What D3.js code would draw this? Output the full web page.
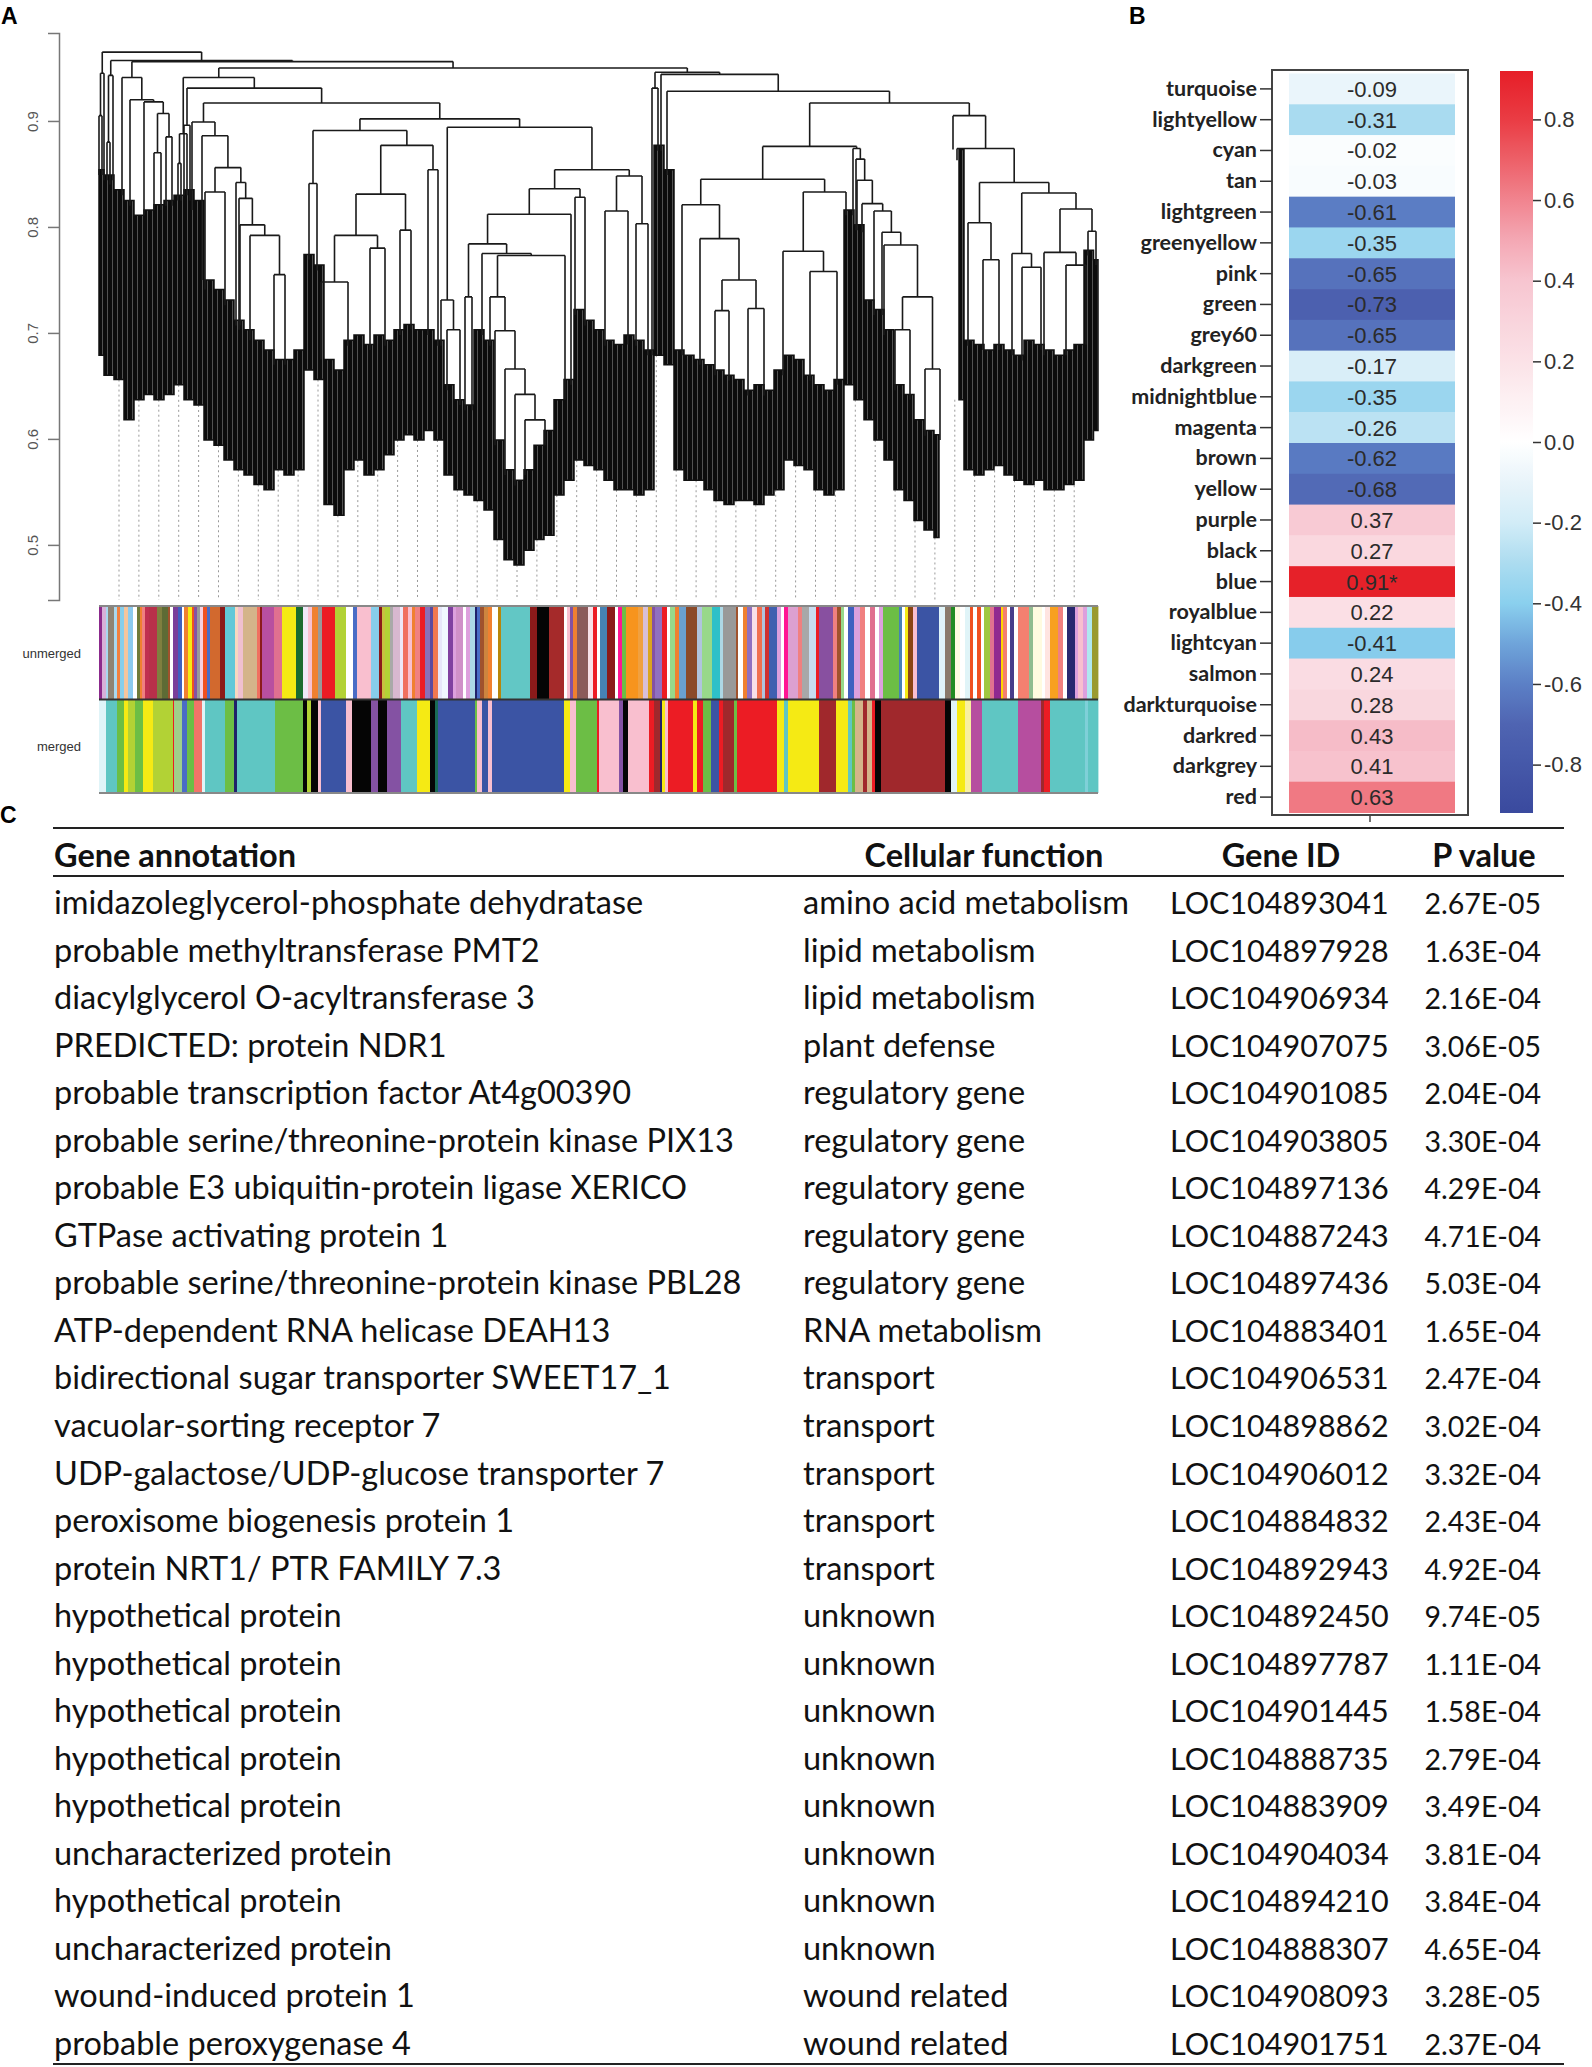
<!DOCTYPE html>
<html>
<head>
<meta charset="utf-8">
<script src="https://cdn.jsdelivr.net/npm/d3@7"></script>
<style>
  body { margin: 0; background: #fff; }
</style>
</head>
<body>
<script>
// ---------------- data ----------------

// panel A: dendrogram (dissimilarity heights), leaves given by leaf index 0..999
var yTicks = [0.5, 0.6, 0.7, 0.8, 0.9];

// sub trees, written as (left,right)@height and leaf@height
var treeDeep = "((796@0.651,811@0.642)@0.703,(826@0.618,841@0.604)@0.666)@0.734";
var treeW2 = "(754@0.816,(757@0.810,(758@0.802,(763@0.795,(775@0.731,(783@0.722,(785@0.703," + treeDeep + ")@0.783)@0.795)@0.815)@0.822)@0.844)@0.864)@0.874";
var treeX1 = "(583@0.684,(601@0.679,((616@0.670,630@0.660)@0.721,(649@0.651,665@0.646)@0.723)@0.750)@0.789)@0.821";
var treeX2 = "((684@0.665,(711@0.675,738@0.656)@0.758)@0.777,747@0.816)@0.833";
var treeZ2 = "((913@0.684,(923@0.679,942@0.689)@0.762)@0.775,((945@0.684,(967@0.684,987@0.689)@0.764)@0.776,(989@0.778,997@0.769)@0.796)@0.817)@0.832";
var treeZ = "((869@0.693,(884@0.689,900@0.689)@0.769)@0.804," + treeZ2 + ")@0.842";
var treeV2 = "(854@0.873,(858@0.863," + treeZ + ")@0.874)@0.905";
var treeS = "((553@0.873,559@0.877)@0.931,(562@0.877,(568@0.854,(((" + treeX1 + "," + treeX2 + ")@0.845," + treeW2 + ")@0.876," + treeV2 + ")@0.917)@0.928)@0.944)@0.946";
var treeVal = "(391@0.693,(396@0.599,(406@0.571,(416@0.561,(426@0.571,446@0.594)@0.618)@0.642)@0.666)@0.702)@0.734";
var treeM = "((((366@0.637,373@0.632)@0.734,(383@0.703,(" + treeVal + ",466@0.637)@0.773)@0.775)@0.784,472@0.656)@0.812,(476@0.722,486@0.712)@0.828)@0.836";
var treeM2 = "((506@0.703,529@0.689)@0.815,(537@0.698,549@0.684)@0.803)@0.848";
var treeL = "((342@0.693,(348@0.651,361@0.637)@0.703)@0.731,(" + treeM + "," + treeM2 + ")@0.854)@0.894";
var treeK = "((222@0.675,249@0.693)@0.748,(271@0.689,286@0.698)@0.780)@0.792";
var treeH = "((210@0.774,218@0.774)@0.841,((" + treeK + ",(301@0.703,312@0.708)@0.797)@0.831,(329@0.703,339@0.693)@0.854)@0.877)@0.891";
var treeF1 = "(93@0.816,(103@0.750,((106@0.741,126@0.731)@0.833,(137@0.712,(140@0.703,(141@0.712,(151@0.693,(175@0.675,186@0.675)@0.755)@0.792)@0.802)@0.827)@0.842)@0.856)@0.886)@0.899";
var treeD = "(((79@0.825,82@0.830)@0.860,88@0.844)@0.888,((85@0.835,91@0.825)@0.896,(" + treeF1 + ",(" + treeH + "," + treeL + ")@0.902)@0.917)@0.931)@0.941";
var treeC1 = "(23@0.873,(31@0.854,(45@0.825,((55@0.820,62@0.835)@0.870,(67@0.830,73@0.849)@0.885)@0.907)@0.918)@0.920)@0.941";
var dendroTree = "(((0@0.873,3@0.860)@0.905,5@0.890)@0.945,(((8@0.854,11@0.840)@0.880,14@0.901)@0.943,(" + treeC1 + ",(" + treeD + "," + treeS + ")@0.950)@0.956)@0.957)@0.965";

// dense lower part of the dendrogram, every 10 leaves (top and bottom heights)
var fuzzTop = [0.854,0.849,0.835,0.825,0.811,0.816,0.821,0.825,0.830,0.835,
  0.825,0.750,0.741,0.731,0.712,0.703,0.693,0.684,0.675,0.675,
  0.684,0.774,0.764,0.675,0.665,0.693,0.698,0.689,0.698,0.693,
  0.703,0.708,0.703,0.703,0.693,0.651,0.637,0.632,0.703,0.693,
  0.599,0.571,0.561,0.571,0.594,0.608,0.637,0.656,0.722,0.712,
  0.703,0.693,0.689,0.698,0.693,0.684,0.877,0.854,0.684,0.679,
  0.675,0.670,0.665,0.660,0.656,0.646,0.651,0.646,0.665,0.679,
  0.675,0.660,0.651,0.646,0.656,0.816,0.802,0.731,0.722,0.703,
  0.651,0.642,0.618,0.608,0.604,null,0.873,0.693,0.689,0.684,
  0.689,0.684,0.679,0.693,0.689,0.684,0.679,0.684,0.689,0.778,
  0.769];
var fuzzBottom = [0.679,0.660,0.656,0.618,0.637,0.642,0.637,0.642,0.651,0.637,
  0.632,0.599,0.594,0.580,0.571,0.566,0.557,0.552,0.571,0.566,
  0.571,0.665,0.656,0.538,0.528,0.571,0.580,0.566,0.571,0.585,
  0.599,0.604,0.599,0.608,0.599,0.566,0.552,0.547,0.542,0.533,
  0.505,0.486,0.481,0.495,0.505,0.509,0.547,0.561,0.580,0.575,
  0.571,0.561,0.552,0.552,0.547,0.552,0.679,0.670,0.571,0.561,
  0.561,0.552,0.542,0.538,0.542,0.542,0.538,0.547,0.552,0.580,
  0.575,0.571,0.552,0.547,0.552,0.651,0.637,0.618,0.599,0.580,
  0.552,0.542,0.523,0.514,0.507,null,0.637,0.571,0.566,0.571,
  0.575,0.566,0.561,0.557,0.561,0.552,0.552,0.557,0.561,0.599,
  0.608];

// module colour bands: [first leaf, colour]
var unmergedBand = [[0,"#8b2a8c"],[3,"#d8b0d8"],[7,"#a8d8f0"],[9,"#8f8373"],[15,"#a8d8f0"],[18,"#f08040"],
  [21,"#87ceeb"],[25,"#f6c59d"],[29,"#8ccbef"],[34,"#ffffff"],[38,"#6e7b3a"],[41,"#f08030"],[43,"#f08080"],
  [46,"#c03050"],[50,"#b8304a"],[58,"#7f7f3f"],[63,"#5d6b35"],[69,"#a0522d"],[71,"#ffffff"],[74,"#7a3f9a"],
  [79,"#4060c0"],[83,"#ffffff"],[85,"#f08030"],[89,"#f5ea14"],[93,"#f05020"],[95,"#8452a3"],[98,"#999999"],
  [101,"#f8d0e0"],[104,"#f05020"],[108,"#4a6cc6"],[111,"#d2692e"],[121,"#8b1a1a"],[126,"#62c8d8"],
  [136,"#f8d8c0"],[139,"#f0c0d0"],[144,"#d4b48a"],[158,"#f07060"],[161,"#8b1a1a"],[163,"#b84fa0"],
  [175,"#e07090"],[183,"#f5ea14"],[197,"#1a6b30"],[204,"#eee8f8"],[209,"#f8c0d0"],[213,"#f08030"],
  [219,"#999999"],[223,"#ec1c24"],[236,"#b2d235"],[247,"#ffffff"],[254,"#4a6cc6"],[258,"#f9bfcf"],
  [272,"#87ceeb"],[280,"#8b1a1a"],[283,"#c8c040"],[286,"#b2d235"],[291,"#a9a9a9"],[294,"#d8b8d0"],
  [301,"#eee8f8"],[304,"#f07060"],[309,"#f9bfcf"],[313,"#f08030"],[316,"#f08080"],[321,"#ec1c24"],
  [326,"#8a70b8"],[331,"#5a4aa0"],[334,"#f07850"],[339,"#e6e6fa"],[343,"#f0f8ff"],[349,"#8040a0"],
  [354,"#dda0dd"],[357,"#d090c8"],[364,"#ffffff"],[367,"#dda0dd"],[371,"#add8e6"],[376,"#20206a"],
  [378,"#4a6cc6"],[381,"#a0522d"],[385,"#cd853f"],[389,"#f08030"],[393,"#ffffff"],[399,"#b8860b"],
  [402,"#62c7c5"],[431,"#8b1a1a"],[438,"#050505"],[450,"#a52a2a"],[465,"#ffffff"],[468,"#f9bfcf"],
  [471,"#8452a3"],[474,"#f08030"],[478,"#8b5a5a"],[489,"#f8e0e8"],[494,"#ec1c24"],[498,"#ffffff"],
  [501,"#4682b4"],[508,"#8b1a1a"],[516,"#ffffff"],[519,"#ff1493"],[523,"#6cbe45"],[527,"#f7941d"],
  [539,"#f0a040"],[544,"#d8bfd8"],[549,"#daa520"],[553,"#8452a3"],[556,"#9070c0"],[563,"#ec1c24"],
  [568,"#ffffff"],[571,"#98d88a"],[576,"#f08030"],[580,"#6aa0d0"],[587,"#8b4a2a"],[598,"#b0c4de"],
  [603,"#98d88a"],[613,"#2ec0c8"],[621,"#add8e6"],[624,"#999999"],[637,"#a0522d"],[639,"#ffffff"],
  [644,"#f08030"],[648,"#9070c0"],[653,"#f8e0e8"],[658,"#f07050"],[663,"#b0c4de"],[666,"#d03030"],
  [670,"#4060b0"],[678,"#dda0dd"],[682,"#ffffff"],[685,"#ff1493"],[689,"#dca0d0"],[699,"#f08080"],
  [703,"#a8a8a8"],[710,"#c8dcf0"],[717,"#ec1c24"],[720,"#8850a0"],[734,"#f08080"],[738,"#a0522d"],
  [742,"#98d88a"],[745,"#ffffff"],[749,"#4060c0"],[755,"#dda0dd"],[761,"#f08080"],[766,"#ffffff"],
  [771,"#e07090"],[776,"#ffffff"],[780,"#dda0dd"],[784,"#6cbe45"],[800,"#4682b4"],[803,"#ffffff"],
  [806,"#f5ea14"],[809,"#8b4513"],[814,"#f9bfcf"],[818,"#3b54a4"],[840,"#e0f4f8"],[846,"#8a7a6a"],
  [852,"#228b22"],[856,"#fffbe0"],[861,"#ffffff"],[866,"#e0f4f8"],[871,"#f05020"],[874,"#ffffff"],
  [878,"#f05020"],[882,"#ffffff"],[885,"#a0c840"],[891,"#e07090"],[895,"#902890"],[902,"#ffd700"],
  [904,"#f48070"],[908,"#ffffff"],[911,"#483d8b"],[915,"#ffffff"],[919,"#f48070"],[930,"#8fbc8f"],
  [934,"#fffbe0"],[943,"#ffffff"],[946,"#ffe4e1"],[951,"#f8a020"],[959,"#f08080"],[964,"#ffffff"],
  [968,"#282870"],[976,"#dda0dd"],[979,"#f9bfcf"],[984,"#dda0dd"],[988,"#b0e8f0"],[993,"#9a9a30"]];

var mergedBand = [[0,"#e0f4f8"],[7,"#5fc6c3"],[18,"#6cbe45"],[25,"#f5ea14"],[29,"#b2d235"],[36,"#6cbe45"],
  [44,"#f5ea14"],[54,"#b2d235"],[74,"#ec1c24"],[75,"#9fd08a"],[83,"#4a6cc6"],[88,"#6cbe45"],[95,"#f37468"],
  [103,"#e0f4f8"],[106,"#5fc6c3"],[126,"#6cbe45"],[135,"#20206a"],[138,"#5fc6c3"],[176,"#6cbe45"],
  [204,"#050505"],[208,"#b2d235"],[212,"#050505"],[219,"#f9bfcf"],[222,"#3b54a4"],[247,"#f9bfcf"],
  [253,"#050505"],[272,"#8452a3"],[279,"#050505"],[288,"#8452a3"],[302,"#5fc6c3"],[318,"#f5ea14"],
  [331,"#050505"],[336,"#1a6b55"],[339,"#3b54a4"],[376,"#6cbe45"],[378,"#f9bfcf"],[383,"#3b54a4"],
  [389,"#f9bfcf"],[393,"#3b54a4"],[465,"#f5ea14"],[471,"#f9bfcf"],[477,"#6cbe45"],[498,"#ec1c24"],
  [500,"#f9bfcf"],[520,"#8452a3"],[524,"#050505"],[529,"#f9bfcf"],[550,"#ec1c24"],[555,"#a0282c"],
  [561,"#20206a"],[563,"#f5ea14"],[566,"#f9bfcf"],[569,"#ec1c24"],[594,"#f5ea14"],[598,"#ec1c24"],
  [604,"#6cbe45"],[612,"#3b54a4"],[620,"#ec1c24"],[624,"#a0282c"],[635,"#6cbe45"],[638,"#ec1c24"],
  [678,"#f5ea14"],[685,"#5fc6c3"],[689,"#f5ea14"],[720,"#a0282c"],[737,"#f5ea14"],[749,"#5fc6c3"],
  [753,"#6cbe45"],[756,"#d4b48a"],[764,"#a0282c"],[768,"#d4b48a"],[773,"#ec1c24"],[776,"#050505"],
  [782,"#a0282c"],[846,"#050505"],[852,"#e0f4f8"],[858,"#f5ea14"],[866,"#f8f0a0"],[872,"#b64e9f"],
  [883,"#5fc6c3"],[919,"#b64e9f"],[942,"#a0282c"],[945,"#ec1c24"],[951,"#5fc6c3"],[986,"#7fd0d8"],
  [989,"#5fc6c3"]];
var bandNames = ["unmerged", "merged"];

// panel B: module - trait correlations
var modules = ["turquoise","lightyellow","cyan","tan","lightgreen","greenyellow","pink","green",
  "grey60","darkgreen","midnightblue","magenta","brown","yellow","purple","black","blue",
  "royalblue","lightcyan","salmon","darkturquoise","darkred","darkgrey","red"];
var correlations = [-0.09,-0.31,-0.02,-0.03,-0.61,-0.35,-0.65,-0.73,-0.65,-0.17,-0.35,-0.26,
  -0.62,-0.68,0.37,0.27,0.91,0.22,-0.41,0.24,0.28,0.43,0.41,0.63];
var cellText = ["-0.09","-0.31","-0.02","-0.03","-0.61","-0.35","-0.65","-0.73","-0.65","-0.17",
  "-0.35","-0.26","-0.62","-0.68","0.37","0.27","0.91*","0.22","-0.41","0.24","0.28","0.43","0.41","0.63"];
var colorStops = [-0.92,-0.7,-0.6,-0.5,-0.4,-0.3,-0.2,-0.1,0,0.2,0.3,0.4,0.5,0.6,0.7,0.8,0.92];
var stopColors = ["#3a4a9e","#4f64b2","#5c80c6","#6fa4da","#8ad0ee","#acdcf0","#d2ecf7","#e8f4fa","#ffffff",
  "#fbe2e7","#f9d4dc","#f7c5d0","#f4a8b4","#f1848f","#ed6068","#ea3c44","#e61e27"];
var barTicks = [-0.8,-0.6,-0.4,-0.2,0,0.2,0.4,0.6,0.8];

// panel C: table
var tableHeaders = ["Gene annotation", "Cellular function", "Gene ID", "P value"];
var geneAnnotation = ["imidazoleglycerol-phosphate dehydratase","probable methyltransferase PMT2",
  "diacylglycerol O-acyltransferase 3","PREDICTED: protein NDR1","probable transcription factor At4g00390",
  "probable serine/threonine-protein kinase PIX13","probable E3 ubiquitin-protein ligase XERICO",
  "GTPase activating protein 1","probable serine/threonine-protein kinase PBL28",
  "ATP-dependent RNA helicase DEAH13","bidirectional sugar transporter SWEET17_1",
  "vacuolar-sorting receptor 7","UDP-galactose/UDP-glucose transporter 7",
  "peroxisome biogenesis protein 1","protein NRT1/ PTR FAMILY 7.3","hypothetical protein",
  "hypothetical protein","hypothetical protein","hypothetical protein","hypothetical protein",
  "uncharacterized protein","hypothetical protein","uncharacterized protein",
  "wound-induced protein 1","probable peroxygenase 4"];
var cellularFunction = ["amino acid metabolism","lipid metabolism","lipid metabolism","plant defense",
  "regulatory gene","regulatory gene","regulatory gene","regulatory gene","regulatory gene",
  "RNA metabolism","transport","transport","transport","transport","transport",
  "unknown","unknown","unknown","unknown","unknown","unknown","unknown","unknown",
  "wound related","wound related"];
var geneIds = ["LOC104893041","LOC104897928","LOC104906934","LOC104907075","LOC104901085",
  "LOC104903805","LOC104897136","LOC104887243","LOC104897436","LOC104883401","LOC104906531",
  "LOC104898862","LOC104906012","LOC104884832","LOC104892943","LOC104892450","LOC104897787",
  "LOC104901445","LOC104888735","LOC104883909","LOC104904034","LOC104894210","LOC104888307",
  "LOC104908093","LOC104901751"];
var pValues = ["2.67E-05","1.63E-04","2.16E-04","3.06E-05","2.04E-04","3.30E-04","4.29E-04",
  "4.71E-04","5.03E-04","1.65E-04","2.47E-04","3.02E-04","3.32E-04","2.43E-04","4.92E-04",
  "9.74E-05","1.11E-04","1.58E-04","2.79E-04","3.49E-04","3.81E-04","3.84E-04","4.65E-04",
  "3.28E-05","2.37E-04"];

// ---------------- drawing ----------------

var svg = d3.select("body").append("svg")
    .attr("width", 1592)
    .attr("height", 2067);

var defs = svg.append("defs");

drawDendrogram();
drawBands();
drawHeatmap();
drawTable();

// panel letters
svg.selectAll(".panel")
    .data([["A", 1, 24], ["B", 1129, 24], ["C", 0, 823]])
    .enter().append("text")
    .attr("x", function(d) { return d[1]; })
    .attr("y", function(d) { return d[2]; })
    .text(function(d) { return d[0]; })
    .style("font-family", "Liberation Sans, Arial, sans-serif")
    .style("font-weight", "bold")
    .style("font-size", "23px");

// read the tree string into nested objects
function parseTree(s) {
    var pos = 0;
    function readNumber() {
        var m = /^[0-9.]+/.exec(s.slice(pos));
        pos += m[0].length;
        return +m[0];
    }
    function readNode() {
        var n;
        if (s[pos] === "(") {
            pos++;
            var kids = [readNode()];
            while (s[pos] === ",") {
                pos++;
                kids.push(readNode());
            }
            pos++;
            n = {children: kids};
        } else {
            n = {leaf: readNumber()};
        }
        pos++; // skip "@"
        n.h = readNumber();
        return n;
    }
    return readNode();
}

// nearest fuzz value for a leaf position
function fuzzAt(arr, i) {
    return arr[Math.max(0, Math.min(arr.length - 1, Math.round(i / 10)))];
}

function drawDendrogram() {

    var x = d3.scaleLinear().domain([0, 999]).range([99, 1098]);
    var y = d3.scaleLinear().domain([0.448, 0.983]).range([600, 33]);

    // y axis with rotated labels
    var axis = svg.append("g")
        .attr("transform", "translate(59,0)")
        .call(d3.axisLeft(y).tickValues(yTicks).tickSize(11).tickFormat(d3.format(".1f")));
    axis.select(".domain").attr("stroke", "#777").attr("stroke-width", 1.5);
    axis.selectAll(".tick line").attr("stroke", "#777").attr("stroke-width", 1.5);
    axis.selectAll(".tick text")
        .attr("transform", "rotate(-90)")
        .attr("x", 0)
        .attr("y", -21)
        .attr("dy", 0)
        .attr("text-anchor", "middle")
        .attr("fill", "#555")
        .style("font-family", "Liberation Sans, Arial, sans-serif")
        .style("font-size", "15px");

    // guide lines under the dendrogram
    var guides = d3.range(49).map(function(k) { return 20 + k * 19.9; });
    svg.append("g").selectAll("line")
        .data(guides)
        .enter().append("line")
        .attr("x1", function(d) { return x(d); })
        .attr("x2", function(d) { return x(d); })
        .attr("y1", function(d) {
            var b = fuzzAt(fuzzBottom, d);
            return y(b == null ? 0.6 : b);
        })
        .attr("y2", 600)
        .attr("stroke", "#999")
        .attr("stroke-width", 1)
        .attr("stroke-dasharray", "2,3");

    // hatch so the dense part reads as many packed branches
    var hatch = defs.append("pattern")
        .attr("id", "hatch")
        .attr("patternUnits", "userSpaceOnUse")
        .attr("width", 5).attr("height", 40);
    hatch.append("rect").attr("width", 5).attr("height", 40).attr("fill", "#0c0c0c");
    hatch.append("rect").attr("x", 2).attr("width", 0.9).attr("height", 40).attr("fill", "#5a5a5a");

    // dense lower part
    var fuzz = fuzzTop.map(function(t, i) { return {i: i * 10, top: t, bottom: fuzzBottom[i]}; });
    var area = d3.area()
        .defined(function(d) { return d.top != null; })
        .x(function(d) { return x(Math.min(d.i, 999)); })
        .y0(function(d) { return y(d.bottom); })
        .y1(function(d) { return y(d.top); })
        .curve(d3.curveStep);
    svg.append("path")
        .datum(fuzz)
        .attr("d", area)
        .attr("fill", "url(#hatch)")
        .attr("stroke", "#111")
        .attr("stroke-width", 1.5);

    // upper tree
    var root = d3.hierarchy(parseTree(dendroTree));
    root.eachAfter(function(d) {
        if (d.children) {
            d.px = d3.mean(d.children, function(c) { return c.px; });
            d.end = d.data.h;
        } else {
            d.px = d.data.leaf;
            var t = fuzzAt(fuzzTop, d.px);
            d.end = t == null ? d.data.h : Math.min(d.data.h, t - 0.005);
        }
    });

    svg.append("g").selectAll("path")
        .data(root.descendants().filter(function(d) { return d.children; }))
        .enter().append("path")
        .attr("d", function(d) {
            var p = d3.path();
            var xs = d.children.map(function(c) { return c.px; });
            p.moveTo(x(d3.min(xs)), y(d.data.h));
            p.lineTo(x(d3.max(xs)), y(d.data.h));
            d.children.forEach(function(c) {
                p.moveTo(x(c.px), y(d.data.h));
                p.lineTo(x(c.px), y(c.end));
            });
            return p.toString();
        })
        .attr("fill", "none")
        .attr("stroke", "#1a1a1a")
        .attr("stroke-width", 1.6);
}

function drawBands() {

    var x = d3.scaleLinear().domain([0, 999]).range([99, 1098]);
    var rows = d3.scaleBand().domain(bandNames).range([606, 793]);
    var bands = {unmerged: unmergedBand, merged: mergedBand};

    bandNames.forEach(function(name) {
        var segs = bands[name];
        svg.append("g").selectAll("rect")
            .data(segs)
            .enter().append("rect")
            .attr("x", function(d) { return x(d[0]); })
            .attr("width", function(d, i) {
                var end = i < segs.length - 1 ? segs[i + 1][0] : 999;
                return x(end) - x(d[0]) + 0.4;
            })
            .attr("y", rows(name))
            .attr("height", rows.bandwidth())
            .attr("fill", function(d) { return d[1]; });

        svg.append("text")
            .attr("x", 81)
            .attr("y", rows(name) + rows.bandwidth() / 2 + 5)
            .attr("text-anchor", "end")
            .text(name)
            .attr("fill", "#333")
            .style("font-family", "Liberation Sans, Arial, sans-serif")
            .style("font-size", "13px");
    });

    // separating lines
    svg.append("g").selectAll("line")
        .data([[606, "#888"], [rows("merged"), "#333"], [793, "#888"]])
        .enter().append("line")
        .attr("x1", 99).attr("x2", 1098)
        .attr("y1", function(d) { return d[0]; })
        .attr("y2", function(d) { return d[0]; })
        .attr("stroke", function(d) { return d[1]; })
        .attr("stroke-width", 2);
}

function drawHeatmap() {

    var color = d3.scaleLinear().domain(colorStops).range(stopColors);
    var rows = d3.scaleBand().domain(modules).range([73.5, 812.5]);

    // cells
    svg.append("g").selectAll("rect")
        .data(modules)
        .enter().append("rect")
        .attr("x", 1289)
        .attr("width", 166)
        .attr("y", function(d) { return rows(d); })
        .attr("height", rows.bandwidth() + 0.5)
        .attr("fill", function(d, i) { return color(correlations[i]); });

    // values
    svg.append("g").selectAll("text")
        .data(modules)
        .enter().append("text")
        .attr("x", 1372)
        .attr("y", function(d) { return rows(d) + rows.bandwidth() / 2 + 8; })
        .attr("text-anchor", "middle")
        .text(function(d, i) { return cellText[i]; })
        .attr("fill", "#2b2b2b")
        .style("font-family", "Liberation Sans, Arial, sans-serif")
        .style("font-size", "22px");

    // frame
    svg.append("rect")
        .attr("x", 1272).attr("y", 70)
        .attr("width", 196).attr("height", 745)
        .attr("fill", "none")
        .attr("stroke", "#444")
        .attr("stroke-width", 2);

    svg.append("line")
        .attr("x1", 1370).attr("x2", 1370)
        .attr("y1", 815).attr("y2", 822)
        .attr("stroke", "#444").attr("stroke-width", 1.5);

    // row labels with ticks
    var labels = svg.append("g").selectAll("g")
        .data(modules)
        .enter().append("g")
        .attr("transform", function(d) { return "translate(0," + (rows(d) + rows.bandwidth() / 2) + ")"; });
    labels.append("line")
        .attr("x1", 1260).attr("x2", 1272)
        .attr("stroke", "#333").attr("stroke-width", 1.5);
    labels.append("text")
        .attr("x", 1257)
        .attr("y", 7)
        .attr("text-anchor", "end")
        .text(function(d) { return d; })
        .attr("fill", "#222")
        .style("font-family", "Lato, sans-serif")
        .style("font-weight", "bold")
        .style("font-size", "21.5px");

    // colour bar
    var barY = d3.scaleLinear().domain([-0.92, 0.92]).range([813, 71]);
    var grad = defs.append("linearGradient")
        .attr("id", "bar")
        .attr("x1", 0).attr("y1", 1).attr("x2", 0).attr("y2", 0);
    grad.selectAll("stop")
        .data(d3.range(0, 93).map(function(k) { return -0.92 + k * 0.02; }))
        .enter().append("stop")
        .attr("offset", function(d) { return (d + 0.92) / 1.84; })
        .attr("stop-color", function(d) { return color(d); });
    svg.append("rect")
        .attr("x", 1500).attr("y", 71)
        .attr("width", 33).attr("height", 742)
        .attr("fill", "url(#bar)");

    var barAxis = svg.append("g")
        .attr("transform", "translate(1533,0)")
        .call(d3.axisRight(barY).tickValues(barTicks).tickSize(8)
            .tickFormat(function(d) { return d.toFixed(1); }));
    barAxis.select(".domain").remove();
    barAxis.selectAll(".tick line").attr("stroke", "#333").attr("stroke-width", 1.5);
    barAxis.selectAll(".tick text")
        .attr("fill", "#333")
        .style("font-family", "Liberation Sans, Arial, sans-serif")
        .style("font-size", "22px");
}

function drawTable() {

    var rowY = d3.scaleLinear().domain([0, geneIds.length - 1]).range([914, 2055]);
    var font = "Lato, sans-serif";

    // rules
    svg.append("g").selectAll("line")
        .data([828, 876, 2064])
        .enter().append("line")
        .attr("x1", 53).attr("x2", 1564)
        .attr("y1", function(d) { return d; })
        .attr("y2", function(d) { return d; })
        .attr("stroke", "#222")
        .attr("stroke-width", 2);

    // header
    var headerPos = [[54, "start"], [984, "middle"], [1281, "middle"], [1484, "middle"]];
    svg.append("g").selectAll("text")
        .data(tableHeaders)
        .enter().append("text")
        .attr("x", function(d, i) { return headerPos[i][0]; })
        .attr("y", 867)
        .attr("text-anchor", function(d, i) { return headerPos[i][1]; })
        .text(function(d) { return d; })
        .style("font-family", font)
        .style("font-weight", "bold")
        .style("font-size", "32.5px")
        .attr("fill", "#111");

    // columns: values, x, anchor, font size
    var columns = [[geneAnnotation, 54, "start", 32.5], [cellularFunction, 803, "start", 32.5],
                   [geneIds, 1170, "start", 30.5], [pValues, 1541, "end", 28.5]];
    columns.forEach(function(col) {
        svg.append("g").selectAll("text")
            .data(col[0])
            .enter().append("text")
            .attr("x", col[1])
            .attr("y", function(d, i) { return rowY(i); })
            .attr("text-anchor", col[2])
            .text(function(d) { return d; })
            .style("font-family", font)
            .style("font-size", col[3] + "px")
            .attr("fill", "#111");
    });
}
</script>
</body>
</html>
